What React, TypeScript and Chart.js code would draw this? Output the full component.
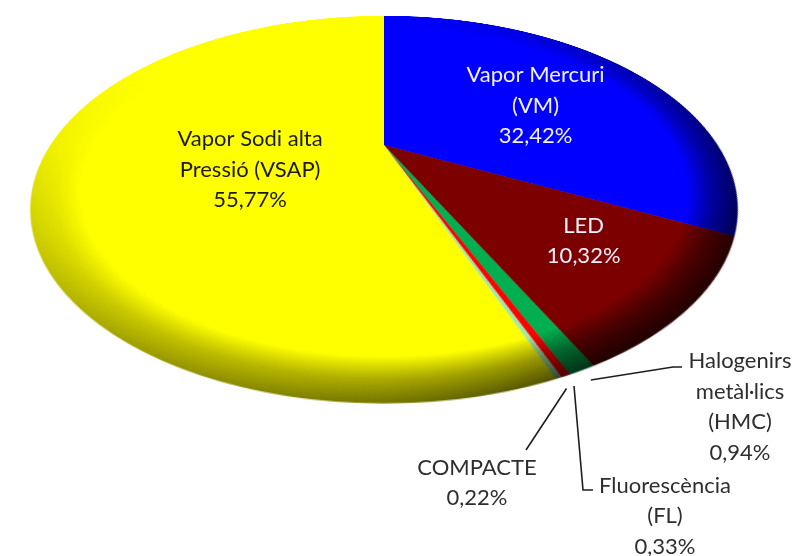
import React, { useEffect, useRef } from 'react';
import { Chart, registerables } from 'chart.js';

Chart.register(...registerables);

// ---------- data ----------
const categories = [
  'Vapor Mercuri (VM)',
  'LED',
  'Halogenirs metàl·lics (HMC)',
  'Fluorescència (FL)',
  'COMPACTE',
  'Vapor Sodi alta Pressió (VSAP)',
];
const labelLines = [
  ['Vapor Mercuri', '(VM)'],
  ['LED'],
  ['Halogenirs', 'metàl·lics', '(HMC)'],
  ['Fluorescència', '(FL)'],
  ['COMPACTE'],
  ['Vapor Sodi alta', 'Pressió (VSAP)'],
];
const shares = [32.42, 10.32, 0.94, 0.33, 0.22, 55.77];
const sliceColors = ['#0000ff', '#7d0000', '#00b050', '#ff0000', '#a4e8a4', '#ffff00'];
const labelColors = ['#f2f2ff', '#f2f2ff', '#2e2e2e', '#2e2e2e', '#2e2e2e', '#1a1a1a'];

// ---------- geometry / styling ----------
const VIEW_W = 795;
const VIEW_H = 556;
const R = 333.6; // pie radius in its own plane
const S = 680; // pie canvas size
const TILT = 58.9; // deg
const PERSP = 857; // px
const CX = 384; // projected pie centre on screen
const CY = 145;
const FONT = '22px Lato, "Open Sans", sans-serif';
const LINE_H = 30.5;

const rad = (TILT * Math.PI) / 180;
const SN = Math.sin(rad);
const CS = Math.cos(rad);
function project(px: number, py: number): [number, number] {
  const k = PERSP / (PERSP - py * SN);
  return [CX + px * k, CY + py * CS * k];
}

// inside labels: fraction of radius + angular shift (deg) from slice middle
const insideLabels: Record<number, { frac: number; shift: number }> = {
  0: { frac: 0.55, shift: 5 },
  1: { frac: 0.69, shift: -2.3 },
  5: { frac: 0.407, shift: -9.4 },
};
// outside labels: text centre on screen + leader path after the slice edge
const outsideLabels: Record<number, { x: number; y: number; path: [number, number][] }> = {
  2: { x: 740, y: 407, path: [[673, 367], [682, 367]] },
  3: { x: 665, y: 516, path: [[583, 490], [593, 490]] },
  4: { x: 477, y: 483, path: [[526, 450]] },
};

// bevel darkness by direction (canvas angle, deg from +x clockwise)
const darkStops: [number, number][] = [
  [0, 0.55], [30, 0.7], [60, 0.75], [90, 0.55], [120, 0.4], [150, 0.22],
  [180, 0.06], [210, 0.0], [270, 0.0], [300, 0.12], [330, 0.32], [360, 0.55],
];

const fmt = (v: number) => v.toFixed(2).replace('.', ',') + '%';

const bevelPlugin = {
  id: 'bevel',
  afterDatasetsDraw(chart: any) {
    const arc = chart.getDatasetMeta(0).data[0] as any;
    if (!arc) return;
    const x = arc.x, y = arc.y, r = arc.outerRadius;
    const dpr = chart.currentDevicePixelRatio || 1;
    const off = document.createElement('canvas');
    off.width = chart.canvas.width;
    off.height = chart.canvas.height;
    const o = off.getContext('2d')!;
    o.scale(dpr, dpr);
    const cg = (o as any).createConicGradient(0, x, y);
    darkStops.forEach(([deg, a]) => cg.addColorStop(deg / 360, `rgba(0,0,0,${a})`));
    o.fillStyle = cg;
    o.beginPath();
    o.arc(x, y, r, 0, Math.PI * 2);
    o.fill();
    o.globalCompositeOperation = 'destination-in';
    const rg = o.createRadialGradient(x, y, r * 0.87, x, y, r);
    rg.addColorStop(0, 'rgba(0,0,0,0)');
    rg.addColorStop(0.5, 'rgba(0,0,0,0.6)');
    rg.addColorStop(1, 'rgba(0,0,0,1)');
    o.fillStyle = rg;
    o.fillRect(0, 0, off.width, off.height);
    const ctx = chart.ctx;
    ctx.save();
    ctx.setTransform(1, 0, 0, 1, 0, 0);
    ctx.drawImage(off, 0, 0);
    ctx.restore();
  },
};

function makeLabelPlugin(overlayRef: React.RefObject<HTMLCanvasElement | null>) {
  return {
    id: 'projectedLabels',
    afterDraw(chart: any) {
      const cv = overlayRef.current;
      if (!cv) return;
      const ctx = cv.getContext('2d')!;
      ctx.clearRect(0, 0, cv.width, cv.height);
      const meta = chart.getDatasetMeta(0);
      ctx.font = FONT;
      ctx.textAlign = 'center';
      ctx.textBaseline = 'middle';
      meta.data.forEach((el: any, i: number) => {
        const mid = (el.startAngle + el.endAngle) / 2;
        const r = el.outerRadius;
        const lines = [...labelLines[i], fmt(shares[i])];
        let tx: number, ty: number;
        if (insideLabels[i]) {
          const a = mid + (insideLabels[i].shift * Math.PI) / 180;
          const f = insideLabels[i].frac;
          [tx, ty] = project(Math.cos(a) * r * f, Math.sin(a) * r * f);
        } else {
          const spec = outsideLabels[i];
          tx = spec.x;
          ty = spec.y;
          const start = project(Math.cos(mid) * r * 1.03, Math.sin(mid) * r * 1.03);
          ctx.save();
          ctx.strokeStyle = '#1e1e1e';
          ctx.lineWidth = 1.6;
          ctx.beginPath();
          ctx.moveTo(start[0], start[1]);
          spec.path.forEach(([px, py]) => ctx.lineTo(px, py));
          ctx.stroke();
          ctx.restore();
        }
        ctx.fillStyle = labelColors[i];
        lines.forEach((ln, j) => {
          ctx.fillText(ln, tx, ty + (j - (lines.length - 1) / 2) * LINE_H);
        });
      });
    },
  };
}

export default function App() {
  const pieRef = useRef<HTMLCanvasElement>(null);
  const overlayRef = useRef<HTMLCanvasElement>(null);

  useEffect(() => {
    const chart = new Chart(pieRef.current!, {
      type: 'pie',
      data: {
        labels: categories,
        datasets: [
          {
            data: shares,
            backgroundColor: sliceColors,
            borderWidth: 0,
            hoverOffset: 0,
            radius: R,
          } as any,
        ],
      },
      options: {
        responsive: false,
        animation: false,
        devicePixelRatio: 2,
        events: [],
        layout: { padding: 0 },
        plugins: { legend: { display: false }, tooltip: { enabled: false } },
      },
      plugins: [bevelPlugin, makeLabelPlugin(overlayRef)],
    });
    return () => chart.destroy();
  }, []);

  return (
    <div
      style={{
        position: 'fixed',
        left: 0,
        top: 0,
        width: VIEW_W,
        height: VIEW_H,
        overflow: 'hidden',
        background: '#ffffff',
      }}
    >
      <div
        style={{
          position: 'absolute',
          left: CX - S / 2,
          top: CY - S / 2,
          width: S,
          height: S,
          transformOrigin: `${S / 2}px ${S / 2}px`,
          transform: `perspective(${PERSP}px) rotateX(${TILT}deg)`,
        }}
      >
        <canvas ref={pieRef} width={S} height={S} style={{ display: 'block', width: S, height: S }} />
      </div>
      <canvas
        ref={overlayRef}
        width={VIEW_W}
        height={VIEW_H}
        style={{ position: 'absolute', left: 0, top: 0, pointerEvents: 'none' }}
      />
    </div>
  );
}
